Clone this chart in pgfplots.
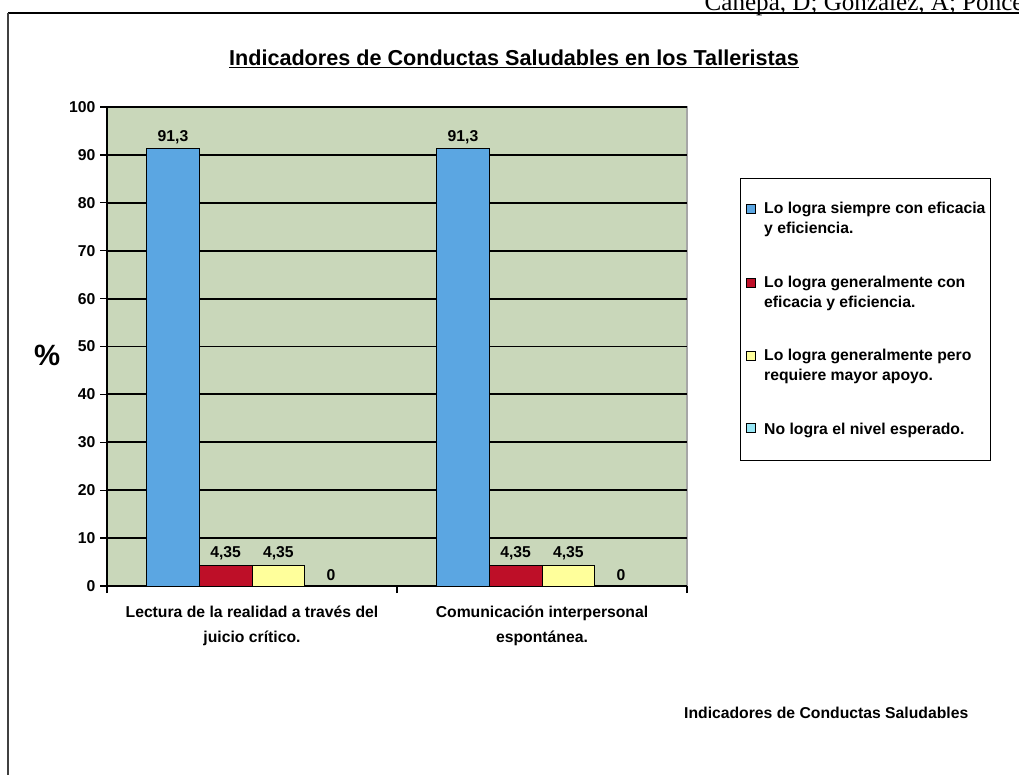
\documentclass[border=0pt]{standalone}
\usepackage{fontspec}
\setmainfont{Liberation Sans}
\newfontfamily\headfont{Liberation Serif}
\usepackage{pgfplots}
\pgfplotsset{compat=1.18}
\definecolor{cBlue}{RGB}{91,166,226}
\definecolor{cRed}{RGB}{190,15,40}
\definecolor{cYellow}{RGB}{255,255,155}
\definecolor{cCyan}{RGB}{150,230,245}
\definecolor{cBg}{RGB}{201,215,186}
\newcommand{\cf}{\bfseries\fontsize{11.8}{18.75}\selectfont}
\newcommand{\lf}{\bfseries\fontsize{11.8}{15}\selectfont}
\pgfplotsset{
  twoline leg/.style={legend image code/.code={\draw[##1, line width=0.6pt] (0pt,4.1pt) rectangle (6.75pt,10.85pt);}},
  oneline leg/.style={legend image code/.code={\draw[##1, line width=0.6pt] (0pt,-2.2pt) rectangle (6.75pt,4.55pt);}},
}
\begin{document}
\begin{tikzpicture}[x=0.75pt,y=-0.75pt]
\useasboundingbox (0,0) rectangle (1019,775);
\draw[line width=1.5pt] (8,13) -- (1019,13);
\draw[line width=1.1pt, black!75] (8,13) -- (8,775);
\node[anchor=base west, font=\headfont\fontsize{18.8}{20}\selectfont] at (700,10) {Canepa, D; Gonzalez, A; Ponce};
\node[font=\bfseries\fontsize{16.2}{18}\selectfont] at (514,59) {\underline{Indicadores de Conductas Saludables en los Talleristas}};
\coordinate (AX) at (107,586);
\begin{axis}[
  at={(AX)}, anchor=south west,
  scale only axis, width=435pt, height=359.25pt,
  ybar=0pt, bar width=39.5pt,
  xmin=-0.5, xmax=1.5, ymin=0, ymax=100,
  ytick={0,10,...,100},
  xtick={-0.5,0.5,1.5},
  x tick label as interval,
  xticklabels={{Lectura de la realidad a través del\\juicio crítico.},{Comunicación interpersonal\\espontánea.}},
  x tick label style={align=center, font=\cf, yshift=-6pt},
  y tick label style={font=\cf},
  /pgf/number format/assume math mode=true,
  /pgf/number format/use comma,
  axis lines*=left,
  axis line style={black, line width=1pt},
  tick align=outside,
  major tick length=5.25pt,
  tick style={black, line width=1pt},
  ymajorgrids,
  grid style={black, line width=1.4pt},
  axis background/.style={fill=cBg, draw=gray!70, line width=0.8pt},
  ylabel={\%},
  every axis y label/.style={at={(axis description cs:-0.103,0.482)}, anchor=center},
  ylabel style={font=\bfseries\fontsize{22}{23}\selectfont},
  nodes near coords,
  every node near coord/.append style={font=\cf, black},
  legend cell align=left,
  legend style={at={(axis description cs:1.091,0.852)}, anchor=north west,
    draw=black, line width=0.9pt, fill=white, font=\lf,
    inner xsep=4pt, inner ysep=18pt, row sep=30pt, column sep=6.5pt,
    nodes={align=left, inner sep=0pt}},
  twoline leg,
]
\addplot[fill=cBlue, draw=black, line width=0.75pt] coordinates {(0,91.3) (1,91.3)};
\addplot[fill=cRed, draw=black, line width=0.75pt] coordinates {(0,4.35) (1,4.35)};
\addplot[fill=cYellow, draw=black, line width=0.75pt] coordinates {(0,4.35) (1,4.35)};
\addplot[fill=cCyan, draw=black, line width=0.75pt, oneline leg] coordinates {(0,0) (1,0)};
\addlegendentry{Lo logra siempre con eficacia\\y eficiencia.}
\addlegendentry{Lo logra generalmente con\\eficacia y eficiencia.}
\addlegendentry{Lo logra generalmente pero\\requiere mayor apoyo.}
\addlegendentry{No logra el nivel esperado.\rule[-14pt]{0pt}{14pt}}
\end{axis}
\node[anchor=east, font=\bfseries\fontsize{11.8}{14}\selectfont] at (973,713) {Indicadores de Conductas Saludables};
\end{tikzpicture}
\end{document}
